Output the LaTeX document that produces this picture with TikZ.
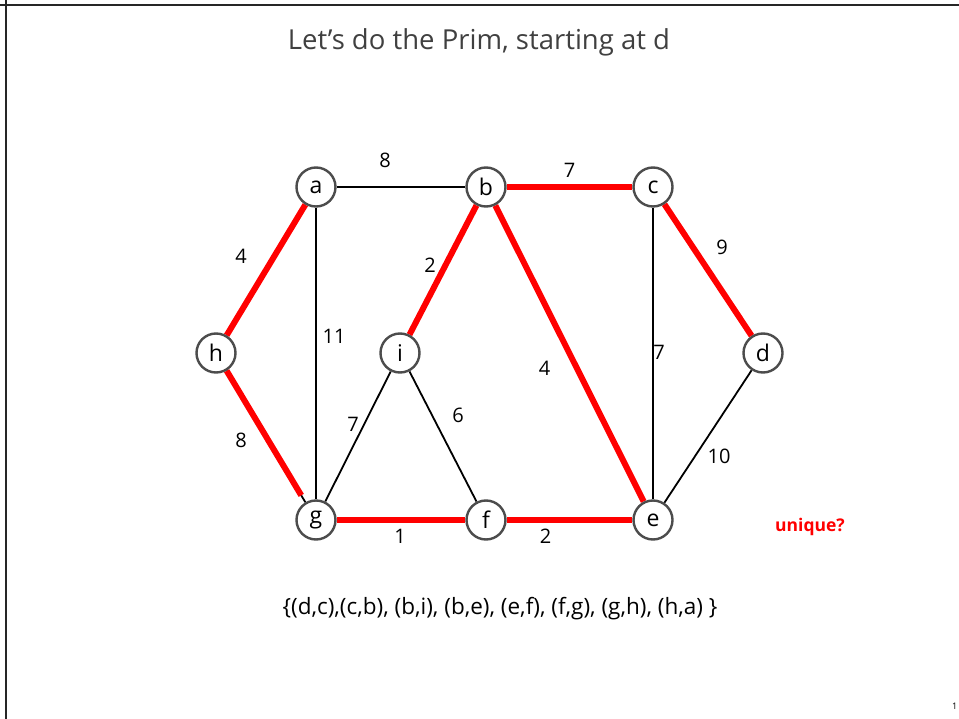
\documentclass[tikz,border=0pt]{standalone}
\usepackage{fontspec}
\setmainfont{Open Sans}
\usepackage{tikz}
\usetikzlibrary{positioning, backgrounds}
\begin{document}
\begin{tikzpicture}[x=1pt, y=-1pt,
    vertex/.style={circle, draw=black!70, line width=2.4pt, fill=white, minimum size=39pt, inner sep=0pt, font=\fontsize{23}{23}\selectfont},
    plain/.style={draw=black, line width=1.8pt},
    tree/.style={draw=red, line width=6pt},
    lbl/.style={font=\fontsize{20}{20}\selectfont, inner sep=1pt}
]
    \useasboundingbox (0,0) rectangle (959,719);
    % frame
    \draw[line width=2.8pt, black!85] (0,5) -- (959,5);
    \draw[line width=2.8pt, black!85] (6,0) -- (6,719);

    \node[font=\fontsize{27.5}{27.5}\selectfont, text=black!75] (title) at (479,42) {Let’s do the Prim, starting at d};

    % vertices
    \node[vertex] (a) at (316,187) {a};
    \node[vertex] (b) at (486,187) {b};
    \node[vertex] (c) at (653,187) {c};
    \node[vertex] (h) at (216,353) {h};
    \node[vertex] (i) at (400,353) {i};
    \node[vertex] (d) at (763,353) {d};
    \node[vertex] (g) at (316,520) {g};
    \node[vertex] (f) at (486,520) {f};
    \node[vertex] (e) at (653,520) {e};

    \begin{scope}[on background layer]
    % edges not in the tree
    \path[plain] (a) -- node[lbl, shift={(-16,-27)}] {8} (b);
    \path[plain] (a) -- node[lbl, shift={(18,-17)}] {11} (g);
    \path[plain] (c) -- node[lbl, shift={(6,-1)}] {7} (e);
    \path[plain] (i) -- node[lbl, shift={(-5,-12)}] {7} (g);
    \path[plain] (i) -- node[lbl, shift={(15,-21)}] {6} (f);
    \path[plain] (d) -- node[lbl, shift={(11,20)}] {10} (e);
    \path[plain] (h) -- (g);

    % tree edges
    \path[tree] (b) -- node[lbl, shift={(0,-17)}] {7} (c);
    \path[tree] (c) -- node[lbl, shift={(14,-23)}] {9} (d);
    \path[tree] (a) -- node[lbl, shift={(-25,-14)}] {4} (h);
    \path[tree] (b) -- node[lbl, shift={(-13,-5)}] {2} (i);
    \path[tree] (b) -- node[lbl, shift={(-25,15)}] {4} (e);
    \path[tree, shorten >=8pt] (h) -- node[lbl, shift={(-25,4)}] {8} (g);
    \path[tree] (g) -- node[lbl, shift={(-1,16)}] {1} (f);
    \path[tree] (f) -- node[lbl, shift={(-24,16)}] {2} (e);
    \end{scope}

    \node[font=\bfseries\fontsize{17.5}{17.5}\selectfont, text=red] (uniq) at (810,527) {unique?};
    \node[font=\fontsize{22.5}{22.5}\selectfont] (set) at (500,609) {\{(d,c),(c,b), (b,i), (b,e), (e,f), (f,g), (g,h), (h,a) \}};
    \node[font=\fontsize{9}{9}\selectfont, anchor=west, inner sep=0pt] (page) at (952,706) {1};
\end{tikzpicture}
\end{document}
